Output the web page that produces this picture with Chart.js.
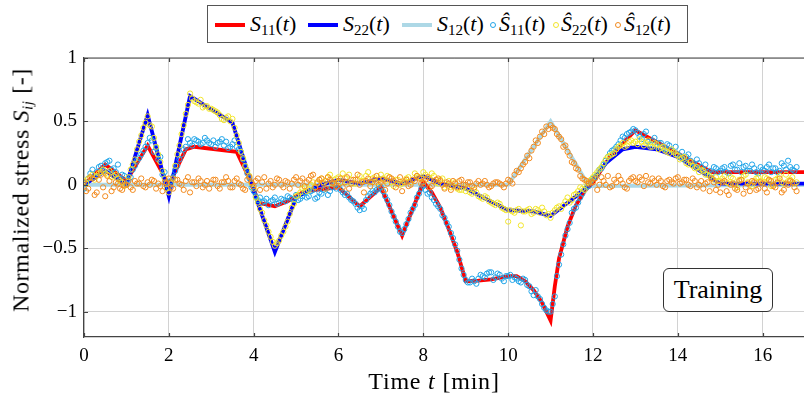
<!DOCTYPE html>
<html>
<head>
<meta charset="utf-8">
<script src="https://cdn.jsdelivr.net/npm/chart.js@4.4.1/dist/chart.umd.min.js"></script>
<style>
    html, body { margin: 0; padding: 0; background: #fff; }
    body { width: 804px; height: 397px; overflow: hidden; position: relative; font-family: "Liberation Serif", serif; color: #000; }
    #wrap { position: absolute; left: 0; top: 0; width: 830px; height: 397px; }
    .legend { position: absolute; left: 207px; top: 5px; width: 479px; height: 36px; border: 1px solid #555; background: #fff; }
    .legend .ln { position: absolute; top: 17px; width: 30px; height: 4px; }
    .legend .mk { position: absolute; top: 16px; width: 4px; height: 4px; border: 1px solid; border-radius: 50%; }
    .legend .tx { position: absolute; top: 0; line-height: 36px; font-size: 22px; white-space: nowrap; }
    sub { font-size: 15px; vertical-align: -4px; line-height: 0; font-style: normal; }
    .ylab { position: absolute; left: 21px; top: 190px; transform: translate(-50%, -50%) rotate(-90deg); font-size: 24px; letter-spacing: 0.6px; white-space: nowrap; }
    .xlab { position: absolute; left: 434px; top: 381px; transform: translate(-50%, -50%); font-size: 24px; letter-spacing: 0.8px; white-space: nowrap; }
    .tag { position: absolute; left: 663px; top: 268px; width: 108px; height: 42px; border: 1px solid #333; border-radius: 6px;
           background: #fff; font-size: 26px; line-height: 42px; text-align: center; }
</style>
</head>
<body>
<div id="wrap"><canvas id="chart" width="830" height="397"></canvas></div>

<div class="legend">
    <span class="ln" style="left:7px;background:#ff0000"></span>
    <span class="tx" style="left:42px"><i>S</i><sub>11</sub>(<i>t</i>)</span>
    <span class="ln" style="left:100px;background:#0000ff"></span>
    <span class="tx" style="left:135px"><i>S</i><sub>22</sub>(<i>t</i>)</span>
    <span class="ln" style="left:194px;background:#add8e6"></span>
    <span class="tx" style="left:229px"><i>S</i><sub>12</sub>(<i>t</i>)</span>
    <span class="mk" style="left:282px;border-color:#22a5e8"></span>
    <span class="tx" style="left:291px"><i>Ŝ</i><sub>11</sub>(<i>t</i>)</span>
    <span class="mk" style="left:345px;border-color:#f2e52a"></span>
    <span class="tx" style="left:353px"><i>Ŝ</i><sub>22</sub>(<i>t</i>)</span>
    <span class="mk" style="left:407px;border-color:#f28a1e"></span>
    <span class="tx" style="left:416px"><i>Ŝ</i><sub>12</sub>(<i>t</i>)</span>
</div>
<div class="ylab">Normalized stress <i>S</i><sub><i>ij</i></sub> [-]</div>
<div class="xlab">Time <i>t</i> [min]</div>
<div class="tag">Training</div>

<script>
// ---- data ----
const xTicks = [0, 2, 4, 6, 8, 10, 12, 14, 16];
const yTicks = [-1, -0.5, 0, 0.5, 1];

// reference curves (vertices in minutes / normalized stress)
const s11T = [0, 0.5, 1.0, 1.5, 2.0, 2.4, 2.6, 3.6, 4.0, 4.1, 4.5, 4.8, 5.2, 6.0, 6.5, 7.0, 7.5, 8.0, 8.2, 8.4, 8.6, 8.8, 9.0, 9.3, 9.6, 10.0, 10.2, 10.4, 10.6, 10.8, 11.0, 11.1, 11.2, 11.4, 11.6, 11.8, 12.0, 12.4, 13.0, 14.8, 17.5];
const s11V = [0, 0.16, 0.03, 0.31, 0.0, 0.28, 0.30, 0.26, -0.02, -0.14, -0.17, -0.13, -0.05, -0.02, -0.17, -0.02, -0.40, 0.02, -0.06, -0.18, -0.35, -0.53, -0.76, -0.755, -0.745, -0.72, -0.72, -0.76, -0.83, -0.93, -1.07, -0.80, -0.58, -0.33, -0.16, -0.05, 0.02, 0.22, 0.43, 0.10, 0.10];

const s22T = [0, 0.5, 1.0, 1.5, 2.0, 2.5, 3.5, 4.0, 4.5, 5.0, 5.5, 6.0, 6.5, 7.0, 7.5, 8.0, 8.4, 9.0, 10.0, 10.6, 11.0, 11.6, 11.9, 12.3, 12.7, 13.0, 13.5, 14.0, 15.0, 17.5];
const s22V = [0, 0.11, 0.0, 0.55, -0.09, 0.70, 0.49, -0.05, -0.53, -0.10, -0.01, 0.04, 0.01, 0.05, 0.01, 0.07, 0.01, -0.03, -0.20, -0.21, -0.245, -0.09, 0.0, 0.17, 0.28, 0.30, 0.28, 0.22, 0.01, 0.01];

const s12T = [0, 10.0, 11.0, 11.9, 17.5];
const s12V = [0, 0.0, 0.50, -0.01, 0.0];

// model outputs: grid A every 0.1 min from 0 to 16.8, grid B halfway between (0.05 .. 16.75)
const tHat = [];
for (let i = 0; i <= 168; i++) tHat.push(+(i * 0.1).toFixed(1));
const tHatB = [];
for (let i = 0; i < 168; i++) tHatB.push(+(i * 0.1 + 0.05).toFixed(2));

const s11Hat = [
    -0.03, 0.05, 0.12, 0.10, 0.15, 0.17, 0.19, 0.13, 0.16, 0.08,
    0.01, 0.06, 0.15, 0.21, 0.27, 0.33, 0.35, 0.29, 0.22, 0.10,
    -0.02, 0.06, 0.15, 0.24, 0.30, 0.33, 0.36, 0.34, 0.33, 0.35,
    0.32, 0.30, 0.34, 0.31, 0.29, 0.32, 0.30, 0.26, 0.14, 0.05,
    -0.05, -0.12, -0.14, -0.11, -0.13, -0.10, -0.14, -0.12, -0.09, -0.11,
    -0.08, -0.11, -0.06, -0.09, -0.04, -0.10, -0.07, -0.03, -0.05, 0.00,
    -0.01, -0.06, -0.07, -0.12, -0.15, -0.20, -0.19, -0.09, -0.05, -0.04,
    -0.02, -0.09, -0.16, -0.25, -0.33, -0.38, -0.31, -0.22, -0.16, -0.07,
    -0.01, -0.07, -0.10, -0.15, -0.19, -0.26, -0.33, -0.42, -0.52, -0.66,
    -0.75, -0.77, -0.76, -0.74, -0.72, -0.70, -0.69, -0.73, -0.71, -0.76,
    -0.72, -0.75, -0.74, -0.77, -0.75, -0.80, -0.87, -0.88, -0.94, -0.99,
    -1.00, -0.88, -0.63, -0.47, -0.35, -0.22, -0.18, -0.10, -0.04, -0.01,
    0.05, 0.08, 0.13, 0.19, 0.25, 0.28, 0.32, 0.38, 0.40, 0.42,
    0.43, 0.38, 0.40, 0.34, 0.35, 0.30, 0.33, 0.28, 0.31, 0.26,
    0.24, 0.26, 0.22, 0.19, 0.15, 0.17, 0.12, 0.10, 0.09, 0.13,
    0.11, 0.14, 0.09, 0.16, 0.12, 0.10, 0.15, 0.11, 0.13, 0.09,
    0.12, 0.14, 0.10, 0.13, 0.11, 0.15, 0.19, 0.12, 0.14
];
const s11HatB = [
    0.02, 0.09, 0.06, 0.14, 0.11, 0.18, 0.12, 0.10, 0.05, 0.07,
    0.04, 0.12, 0.19, 0.24, 0.30, 0.37, 0.26, 0.20, 0.08, 0.02,
    0.03, 0.11, 0.20, 0.28, 0.36, 0.31, 0.35, 0.32, 0.37, 0.33,
    0.35, 0.33, 0.36, 0.34, 0.30, 0.35, 0.28, 0.20, 0.09, -0.02,
    -0.09, -0.10, -0.13, -0.16, -0.12, -0.15, -0.11, -0.13, -0.10, -0.12,
    -0.12, -0.09, -0.10, -0.05, -0.11, -0.06, -0.04, -0.08, -0.02, -0.03,
    -0.04, -0.08, -0.10, -0.13, -0.18, -0.17, -0.12, -0.07, -0.06, -0.03,
    -0.05, -0.12, -0.21, -0.29, -0.37, -0.35, -0.27, -0.19, -0.10, -0.03,
    -0.04, -0.06, -0.12, -0.17, -0.24, -0.30, -0.38, -0.47, -0.59, -0.71,
    -0.77, -0.74, -0.78, -0.71, -0.73, -0.69, -0.75, -0.70, -0.74, -0.72,
    -0.71, -0.73, -0.76, -0.74, -0.79, -0.84, -0.83, -0.90, -0.97, -1.00,
    -0.94, -0.72, -0.55, -0.40, -0.30, -0.19, -0.14, -0.07, -0.02, 0.03,
    0.06, 0.12, 0.16, 0.22, 0.27, 0.30, 0.35, 0.37, 0.41, 0.44,
    0.41, 0.36, 0.42, 0.32, 0.37, 0.33, 0.29, 0.32, 0.27, 0.30,
    0.22, 0.20, 0.24, 0.17, 0.20, 0.14, 0.16, 0.11, 0.14, 0.10,
    0.13, 0.10, 0.15, 0.12, 0.17, 0.14, 0.11, 0.16, 0.10, 0.14,
    0.11, 0.16, 0.13, 0.10, 0.17, 0.12, 0.14, 0.11
];

const s22Hat = [
    0.03, 0.05, 0.08, 0.07, 0.10, 0.09, 0.11, 0.07, 0.05, 0.02,
    0.00, 0.12, 0.20, 0.34, 0.45, 0.54, 0.46, 0.30, 0.18, 0.05,
    -0.06, 0.05, 0.24, 0.40, 0.56, 0.72, 0.66, 0.64, 0.61, 0.62,
    0.60, 0.58, 0.55, 0.51, 0.54, 0.52, 0.39, 0.26, 0.15, 0.07,
    -0.03, -0.14, -0.22, -0.32, -0.41, -0.48, -0.44, -0.37, -0.29, -0.18,
    -0.09, -0.06, -0.02, -0.04, 0.02, 0.01, 0.05, 0.03, 0.08, 0.04,
    0.06, 0.09, 0.02, 0.04, 0.01, 0.07, 0.03, 0.10, 0.05, 0.02,
    0.08, 0.03, 0.06, -0.01, 0.04, 0.01, 0.05, 0.02, 0.09, 0.06,
    0.10, 0.06, 0.09, 0.02, 0.04, -0.02, 0.03, -0.01, -0.03, -0.04,
    -0.05, -0.06, -0.04, -0.09, -0.11, -0.10, -0.14, -0.16, -0.15, -0.19,
    -0.29, -0.21, -0.20, -0.32, -0.21, -0.19, -0.22, -0.20, -0.18, -0.24,
    -0.26, -0.20, -0.17, -0.16, -0.10, -0.12, -0.07, -0.02, -0.04, 0.02,
    0.06, 0.10, 0.14, 0.20, 0.23, 0.25, 0.30, 0.33, 0.31, 0.35,
    0.34, 0.36, 0.31, 0.35, 0.30, 0.32, 0.29, 0.27, 0.25, 0.26,
    0.23, 0.21, 0.17, 0.18, 0.13, 0.10, 0.11, 0.08, 0.05, 0.06,
    0.03, 0.07, 0.01, 0.05, -0.02, 0.04, 0.08, 0.00, 0.03, 0.06,
    0.02, 0.05, -0.01, 0.04, 0.07, 0.01, 0.03, 0.06, 0.02
];
const s22HatB = [
    0.01, 0.06, 0.04, 0.09, 0.12, 0.08, 0.06, 0.08, 0.03, -0.01,
    0.06, 0.16, 0.28, 0.39, 0.49, 0.47, 0.37, 0.24, 0.11, -0.03,
    0.01, 0.15, 0.31, 0.47, 0.63, 0.68, 0.65, 0.67, 0.62, 0.60,
    0.59, 0.57, 0.52, 0.53, 0.50, 0.45, 0.33, 0.21, 0.11, 0.01,
    -0.10, -0.19, -0.28, -0.37, -0.45, -0.46, -0.40, -0.33, -0.23, -0.15,
    -0.08, -0.03, -0.05, 0.00, -0.02, 0.04, 0.02, 0.06, 0.01, 0.05,
    0.02, 0.05, 0.08, 0.01, 0.04, 0.03, 0.07, 0.02, 0.06, 0.04,
    0.05, 0.07, 0.02, 0.04, 0.00, 0.03, 0.06, 0.04, 0.07, 0.05,
    0.08, 0.04, 0.07, 0.01, 0.05, 0.00, -0.02, 0.02, -0.04, -0.02,
    -0.03, -0.07, -0.06, -0.10, -0.09, -0.13, -0.15, -0.14, -0.18, -0.20,
    -0.20, -0.22, -0.19, -0.21, -0.20, -0.23, -0.19, -0.22, -0.21, -0.23,
    -0.22, -0.18, -0.19, -0.13, -0.14, -0.08, -0.05, -0.03, 0.01, 0.04,
    0.08, 0.12, 0.17, 0.22, 0.24, 0.28, 0.31, 0.30, 0.34, 0.33,
    0.32, 0.34, 0.33, 0.30, 0.33, 0.28, 0.30, 0.26, 0.28, 0.24,
    0.20, 0.22, 0.16, 0.15, 0.14, 0.12, 0.08, 0.07, 0.04, 0.03,
    0.05, 0.02, 0.06, 0.00, 0.04, 0.07, 0.02, -0.01, 0.05, 0.03,
    0.06, 0.03, 0.00, 0.05, 0.02, 0.08, 0.04, 0.01
];

const s12Hat = [
    0.02, -0.03, 0.05, -0.06, 0.08, -0.09, 0.03, -0.02, 0.01, -0.04,
    0.00, -0.02, 0.03, 0.01, -0.01, 0.02, 0.04, -0.03, -0.01, 0.02,
    0.05, -0.03, 0.04, 0.00, 0.03, -0.06, 0.02, 0.05, -0.02, 0.03,
    0.01, 0.04, -0.03, 0.02, 0.03, -0.02, 0.05, 0.00, -0.04, 0.06,
    -0.01, 0.05, 0.02, -0.03, 0.03, 0.00, 0.04, -0.02, 0.02, 0.01,
    0.06, 0.03, -0.01, 0.04, 0.08, 0.02, 0.05, -0.03, 0.04, 0.01,
    0.03, -0.02, 0.06, 0.01, 0.04, 0.00, -0.06, 0.05, 0.02, 0.07,
    0.02, -0.04, 0.06, 0.03, 0.01, -0.05, 0.04, 0.00, 0.03, 0.05,
    0.02, 0.06, -0.01, 0.04, 0.03, -0.03, 0.01, 0.03, -0.02, 0.04,
    0.00, 0.02, -0.02, 0.03, 0.01, 0.00, -0.01, 0.02, 0.01, -0.02,
    0.04, 0.01, 0.11, 0.13, 0.18, 0.21, 0.30, 0.33, 0.42, 0.46,
    0.47, 0.44, 0.38, 0.30, 0.26, 0.18, 0.13, 0.07, 0.04, 0.01,
    0.02, -0.04, 0.06, 0.00, -0.02, 0.04, 0.07, 0.01, -0.03, 0.05,
    0.03, 0.06, -0.01, 0.02, 0.05, 0.00, 0.03, -0.02, 0.04, 0.01,
    0.06, 0.02, 0.04, -0.01, 0.03, 0.00, -0.03, 0.02, 0.05, -0.04,
    -0.06, 0.03, -0.08, 0.01, -0.04, 0.04, -0.02, -0.05, 0.02, -0.03,
    0.01, -0.06, 0.03, -0.02, 0.05, -0.04, 0.00, 0.02, -0.05
];
const s12HatB = [
    -0.05, 0.06, -0.08, 0.04, -0.02, 0.07, -0.05, 0.02, -0.03, 0.00,
    0.03, -0.04, 0.01, 0.05, -0.02, 0.00, 0.03, 0.01, -0.05, 0.01,
    -0.02, 0.04, 0.01, -0.04, 0.06, 0.02, -0.01, 0.03, 0.00, -0.03,
    0.04, -0.01, 0.02, 0.06, -0.02, 0.03, 0.01, -0.03, 0.04, 0.02,
    0.03, -0.04, 0.06, 0.01, -0.02, 0.05, 0.00, 0.03, -0.03, 0.04,
    0.00, 0.05, 0.02, 0.07, -0.02, 0.04, 0.01, 0.06, 0.02, -0.01,
    0.05, 0.02, -0.03, 0.04, 0.08, 0.02, 0.03, -0.01, 0.04, 0.00,
    0.04, 0.01, 0.05, -0.02, 0.06, 0.02, -0.01, 0.04, 0.07, 0.01,
    0.04, -0.02, 0.03, 0.05, 0.00, 0.02, -0.04, 0.01, 0.03, 0.00,
    0.02, -0.01, 0.01, 0.00, 0.03, -0.02, 0.01, 0.02, 0.00, 0.01,
    0.03, 0.08, 0.10, 0.16, 0.23, 0.27, 0.35, 0.38, 0.40, 0.44,
    0.45, 0.40, 0.36, 0.31, 0.23, 0.17, 0.12, 0.05, 0.03, 0.02,
    0.05, 0.00, 0.03, 0.07, -0.01, 0.02, 0.04, -0.02, 0.03, 0.06,
    0.02, 0.04, 0.07, 0.01, 0.03, 0.05, -0.01, 0.03, 0.02, 0.05,
    0.01, 0.04, 0.00, 0.05, -0.02, 0.03, 0.01, -0.05, 0.02, 0.00,
    0.02, -0.05, 0.00, -0.03, 0.03, -0.07, 0.01, 0.03, -0.04, 0.02,
    -0.03, 0.04, -0.01, 0.02, -0.06, 0.01, 0.03, -0.02
];

// ---- helpers ----
const pts = (xs, ys) => xs.map((x, i) => ({ x, y: ys[i] }));

function curve(xs, ys, color, width, order) {
    return { data: pts(xs, ys), borderColor: color, borderWidth: width, pointRadius: 0, tension: 0, fill: false, order };
}

function marks(ysA, ysB, color, order) {
    return { data: pts(tHat, ysA).concat(pts(tHatB, ysB)), showLine: false, pointRadius: 2.6, pointBorderWidth: 1,
             pointBorderColor: color, pointBackgroundColor: 'rgba(0,0,0,0)', order };
}

const frame = {
    id: 'frame',
    afterDraw(chart) {
        const { ctx, chartArea: a, scales } = chart;
        ctx.save();
        ctx.strokeStyle = '#444';
        ctx.lineWidth = 1.2;
        ctx.beginPath();
        ctx.moveTo(a.left, a.top);
        ctx.lineTo(a.right, a.top);
        xTicks.forEach(v => {
            const x = Math.round(scales.x.getPixelForValue(v)) + 0.5;
            ctx.moveTo(x, a.bottom); ctx.lineTo(x, a.bottom - 4);
            ctx.moveTo(x, a.top); ctx.lineTo(x, a.top + 4);
        });
        yTicks.forEach(v => {
            const y = Math.round(scales.y.getPixelForValue(v)) + 0.5;
            ctx.moveTo(a.left, y); ctx.lineTo(a.left + 4, y);
        });
        ctx.stroke();
        ctx.restore();
    }
};

Chart.defaults.font.family = '"Liberation Serif", serif';
Chart.defaults.color = '#000';

new Chart(document.getElementById('chart'), {
    type: 'line',
    data: {
        datasets: [
            curve(s12T, s12V, '#add8e6', 4, 6),
            curve(s11T, s11V, '#ff0000', 3.8, 5),
            curve(s22T, s22V, '#0000ff', 3.8, 4),
            marks(s11Hat, s11HatB, '#22a5e8', 3),
            marks(s22Hat, s22HatB, '#f2e52a', 2),
            marks(s12Hat, s12HatB, '#f28a1e', 1)
        ]
    },
    options: {
        responsive: false,
        animation: false,
        devicePixelRatio: 1,
        layout: { padding: { top: 58, left: 0, right: 0, bottom: 0 } },
        plugins: { legend: { display: false }, tooltip: { enabled: false } },
        scales: {
            x: {
                type: 'linear', min: 0, max: 17.47,
                afterBuildTicks: s => { s.ticks = xTicks.map(v => ({ value: v })); },
                afterFit: s => { s.height = 60; },
                grid: { color: '#d2d2d2', lineWidth: 1, drawTicks: false },
                border: { display: true, color: '#444', width: 1.2 },
                ticks: { font: { size: 19 }, padding: 8, maxRotation: 0, autoSkip: false }
            },
            y: {
                type: 'linear', min: -1.2, max: 1,
                afterBuildTicks: s => { s.ticks = yTicks.map(v => ({ value: v })); },
                afterFit: s => { s.width = 84; },
                grid: { color: '#d2d2d2', lineWidth: 1, drawTicks: false },
                border: { display: true, color: '#444', width: 1.2 },
                ticks: { font: { size: 19 }, padding: 7, callback: v => v < 0 ? '\u2212' + Math.abs(v) : String(v) }
            }
        }
    },
    plugins: [frame]
});
</script>
</body>
</html>
